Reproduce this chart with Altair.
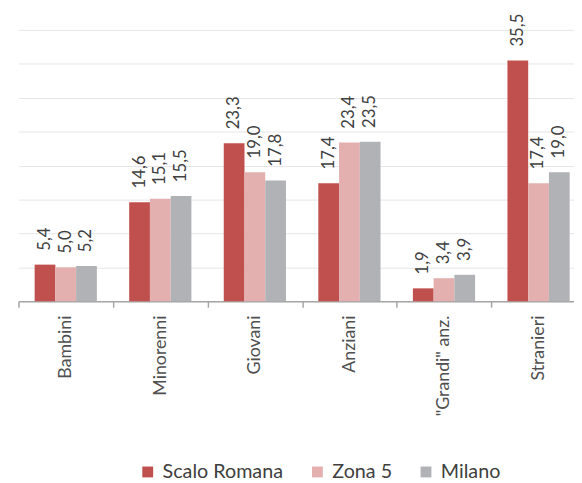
import altair as alt
import pandas as pd

categories = ["Bambini", "Minorenni", "Giovani", "Anziani", "\"Grandi\" anz.", "Stranieri"]
series = ["Scalo Romana", "Zona 5", "Milano"]
scalo_romana = [5.4, 14.6, 23.3, 17.4, 1.9, 35.5]
zona_5 = [5.0, 15.1, 19.0, 23.4, 3.4, 17.4]
milano = [5.2, 15.5, 17.8, 23.5, 3.9, 19.0]
colors = ["#C0504D", "#E3AFAF", "#B1B2B6"]
grid_values = [0, 5, 10, 15, 20, 25, 30, 35, 40]

rows = []
for s, vals in zip(series, [scalo_romana, zona_5, milano]):
    for c, v in zip(categories, vals):
        rows.append({"categoria": c, "serie": s, "valore": v})
df = pd.DataFrame(rows)

FONT = "Lato"

x = alt.X("categoria:N", sort=categories,
          scale=alt.Scale(range=[0, 575], paddingInner=0, paddingOuter=0),
          axis=alt.Axis(title=None, labelAngle=270, labelAlign="right", labelBaseline="middle",
                        labelFontSize=18, labelFont=FONT, labelColor="#505050", labelPadding=8,
                        tickBand="extent", tickSize=6, tickColor="#A6A6A6",
                        domainColor="#A6A6A6", domainWidth=1.5, tickWidth=1.5, grid=False))
xo = alt.XOffset("serie:N", sort=series,
                 scale=alt.Scale(paddingInner=0, paddingOuter=0.78))
y = alt.Y("valore:Q", scale=alt.Scale(domain=[0, 40], nice=False),
          axis=alt.Axis(title=None, labels=False, ticks=False, domain=False,
                        values=grid_values,
                        grid=True, gridColor="#E6E6E6", gridWidth=1))

bars = alt.Chart(df).mark_bar().encode(
    x=x, xOffset=xo, y=y,
    color=alt.Color("serie:N", sort=series,
                    scale=alt.Scale(domain=series, range=colors),
                    legend=alt.Legend(title=None, orient="none", direction="horizontal",
                                      legendX=121, legendY=438, symbolType="square",
                                      symbolSize=121, symbolStrokeWidth=0,
                                      labelFontSize=20, labelFont=FONT, labelColor="#404040",
                                      labelOffset=5, columnPadding=24, padding=0)),
)

labels = alt.Chart(df).transform_calculate(
    lab="replace(format(datum.valore, '.1f'), '.', ',')"
).mark_text(angle=270, align="left", baseline="middle", dx=14,
            fontSize=17, font=FONT, color="#404040").encode(
    x=x, xOffset=xo, y=y, text="lab:N")

chart = alt.layer(bars, labels).properties(
    width=563, height=275,
    autosize=alt.AutoSizeParams(type="none"),
    padding={"left": 10.6, "top": 19, "right": 0, "bottom": 181},
).configure_view(stroke=None)

chart.save("out.html", embed_options={"renderer": "svg", "actions": False})
